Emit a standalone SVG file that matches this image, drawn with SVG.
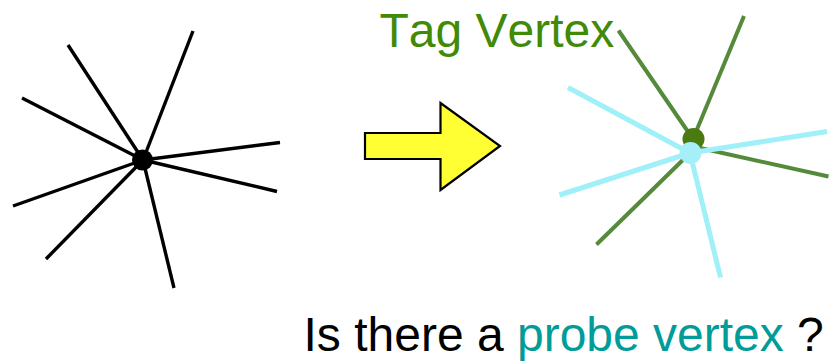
<svg xmlns="http://www.w3.org/2000/svg" width="836" height="361" viewBox="0 0 836 361">
<style>
.blk{stroke:#000;stroke-width:3.4;stroke-linecap:butt}
.grn{stroke:#548a3a;stroke-width:4;stroke-linecap:butt}
.cyn{stroke:#9ff0f8;stroke-width:5;stroke-linecap:butt}
.lbl{font-family:"Liberation Sans",Arial,sans-serif;font-size:48px;font-kerning:none}
</style>
<rect width="836" height="361" fill="#fff"/>
<g id="connectors">
<g id="left-edges" class="blk">
<line x1="143" y1="160" x2="193" y2="31"/>
<line x1="143" y1="160" x2="68" y2="45"/>
<line x1="143" y1="160" x2="22" y2="98"/>
<line x1="143" y1="160" x2="280" y2="142.5"/>
<line x1="143" y1="160" x2="277" y2="191.5"/>
<line x1="143" y1="160" x2="13" y2="206"/>
<line x1="143" y1="160" x2="46" y2="259"/>
<line x1="143" y1="160" x2="174" y2="288"/>
</g>
<g id="tag-edges" class="grn">
<line x1="693" y1="139" x2="618.5" y2="30.5"/>
<line x1="693" y1="139" x2="744" y2="16"/>
<line x1="700" y1="148" x2="828.5" y2="176.5"/>
<line x1="690" y1="153" x2="596.5" y2="244.5"/>
</g>
</g>
<g id="tag-vertex"><circle cx="693.5" cy="139" r="11" fill="#4b7a10"/></g>
<g id="probe-edges" class="cyn">
<line x1="690" y1="153" x2="568" y2="87.5"/>
<line x1="690" y1="153" x2="827" y2="131.5"/>
<line x1="690" y1="153" x2="559.5" y2="195"/>
<line x1="690" y1="153" x2="720.5" y2="277.5"/>
</g>
<g id="probe-vertex"><circle cx="690.5" cy="153" r="11" fill="#a6eef8"/></g>
<g id="center-vertex"><circle cx="142.5" cy="160" r="10.5" fill="#000"/></g>
<g id="arrow"><path d="M365,133 H440.5 V103 L500,146 L440.5,190 V159 H365 Z" fill="#ffff33" stroke="#000" stroke-width="2.2" stroke-linejoin="miter"/></g>
<g id="tag-label"><text class="lbl" x="379.5" y="47" fill="#418a08" font-size="45.5">Tag Vertex</text></g>
<g id="question"><text class="lbl" x="303.5" y="351" fill="#000">Is there a <tspan fill="#009c99">probe vertex</tspan> ?</text></g>
</svg>
